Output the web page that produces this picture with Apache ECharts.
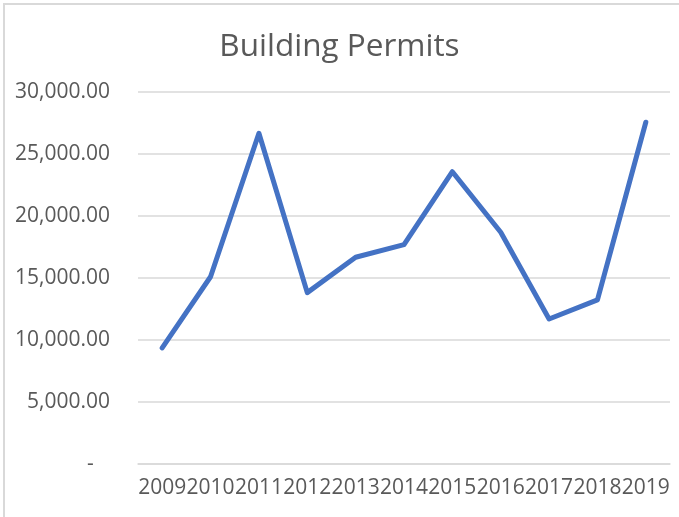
<!DOCTYPE html>
<html>
<head>
<meta charset="utf-8">
<script src="https://cdn.jsdelivr.net/npm/echarts@6/dist/echarts.min.js"></script>
<style>
  html, body { margin: 0; padding: 0; background: #fff; overflow: hidden; }
  #frame {
    position: absolute; left: 3px; top: 3px; width: 760px; height: 600px;
    border-left: 2px solid #d9d9d9; border-top: 2px solid #d9d9d9;
  }
  #main { position: absolute; left: 0; top: 0; width: 679px; height: 517px; }
</style>
</head>
<body>
<div id="frame"></div>
<div id="main"></div>
<script>
const years = ['2009', '2010', '2011', '2012', '2013', '2014', '2015', '2016', '2017', '2018', '2019']
const permits = [9360, 15100, 26670, 13820, 16670, 17690, 23570, 18690, 11690, 13230, 27560]

function fmt(v) {
  if (v === 0) return '-   '
  return v.toLocaleString('en-US', {minimumFractionDigits: 2, maximumFractionDigits: 2})
}

const option = {
  backgroundColor: 'transparent',
  animation: false,
  title: {
    text: 'Building Permits',
    left: 'center',
    top: 26,
    textStyle: {
      fontFamily: 'Open Sans',
      fontSize: 31.5,
      fontWeight: 'normal',
      color: '#595959'
    }
  },
  grid: {
    left: 138,
    right: 9,
    top: 92,
    bottom: 53
  },
  xAxis: {
    type: 'category',
    data: years,
    boundaryGap: true,
    axisLine: { lineStyle: { color: '#d9d9d9', width: 1.5 } },
    axisTick: { show: false },
    axisLabel: {
      interval: 0,
      margin: 14,
      fontFamily: 'Open Sans',
      fontSize: 21,
      color: '#595959'
    }
  },
  yAxis: {
    type: 'value',
    min: 0,
    max: 30000,
    interval: 5000,
    axisLine: { show: false },
    axisTick: { show: false },
    splitLine: { lineStyle: { color: '#d9d9d9', width: 1.5 } },
    axisLabel: {
      margin: 28,
      fontFamily: 'Open Sans',
      fontSize: 21,
      color: '#595959',
      formatter: fmt
    }
  },
  series: [
    {
      name: 'Building Permits',
      type: 'line',
      data: permits,
      showSymbol: false,
      lineStyle: {
        color: '#4472C4',
        width: 5,
        cap: 'round',
        join: 'round'
      }
    }
  ]
}

const chart = echarts.init(document.getElementById('main'))
chart.setOption(option)
</script>
</body>
</html>
